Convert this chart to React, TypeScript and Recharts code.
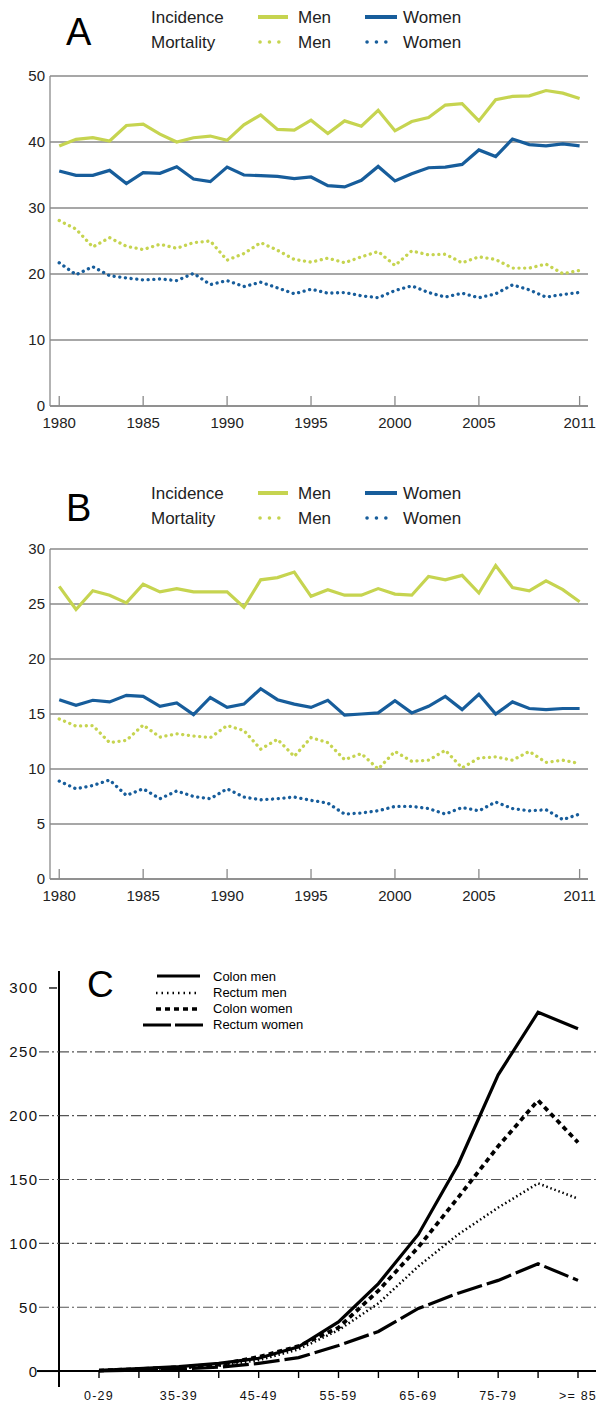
import React from "react";
import { LineChart, Line, XAxis, YAxis, CartesianGrid, ReferenceLine } from "recharts";

// years on the x axis of panels A and B
const years = [
  1980, 1981, 1982, 1983, 1984, 1985, 1986, 1987, 1988, 1989,
  1990, 1991, 1992, 1993, 1994, 1995, 1996, 1997, 1998, 1999,
  2000, 2001, 2002, 2003, 2004, 2005, 2006, 2007, 2008, 2009,
  2010, 2011,
];
const yearTicks = [1980, 1985, 1990, 1995, 2000, 2005, 2011];

// panel A
const incMenA = [39.4, 40.4, 40.65, 40.15, 42.5, 42.7, 41.2, 40.0, 40.65, 40.9, 40.25, 42.6, 44.1, 41.9, 41.8, 43.3, 41.3, 43.2, 42.4, 44.8, 41.7, 43.1, 43.7, 45.6, 45.8, 43.2, 46.4, 46.9, 47.0, 47.8, 47.4, 46.6];
const incWomenA = [35.6, 34.95, 34.95, 35.7, 33.7, 35.35, 35.25, 36.25, 34.4, 34.0, 36.2, 35.0, 34.9, 34.8, 34.45, 34.7, 33.4, 33.2, 34.2, 36.3, 34.1, 35.2, 36.1, 36.2, 36.6, 38.8, 37.8, 40.45, 39.6, 39.4, 39.7, 39.4];
const mortMenA = [28.1, 26.8, 24.1, 25.5, 24.2, 23.7, 24.5, 23.9, 24.75, 25.0, 22.1, 23.1, 24.75, 23.6, 22.2, 21.8, 22.4, 21.7, 22.6, 23.4, 21.3, 23.5, 22.9, 23.0, 21.7, 22.6, 22.2, 20.9, 20.9, 21.5, 20.05, 20.55];
const mortWomenA = [21.7, 19.9, 21.1, 19.75, 19.4, 19.1, 19.25, 19.0, 20.1, 18.4, 19.0, 18.1, 18.75, 17.9, 17.0, 17.7, 17.1, 17.2, 16.7, 16.4, 17.5, 18.2, 17.2, 16.5, 17.1, 16.4, 17.0, 18.35, 17.6, 16.5, 16.9, 17.2];
const ticksA = [0, 10, 20, 30, 40, 50];

// panel B
const incMenB = [26.6, 24.5, 26.2, 25.8, 25.1, 26.8, 26.1, 26.4, 26.1, 26.1, 26.1, 24.7, 27.2, 27.4, 27.9, 25.7, 26.3, 25.8, 25.8, 26.4, 25.9, 25.8, 27.5, 27.2, 27.6, 26.0, 28.5, 26.5, 26.2, 27.1, 26.3, 25.2];
const incWomenB = [16.3, 15.8, 16.25, 16.1, 16.7, 16.6, 15.7, 16.0, 14.95, 16.5, 15.6, 15.9, 17.3, 16.3, 15.9, 15.6, 16.25, 14.9, 15.0, 15.1, 16.2, 15.1, 15.7, 16.6, 15.4, 16.8, 15.0, 16.1, 15.5, 15.4, 15.5, 15.5];
const mortMenB = [14.55, 13.9, 13.95, 12.4, 12.6, 14.0, 12.9, 13.2, 13.0, 12.85, 13.95, 13.5, 11.8, 12.7, 11.15, 12.85, 12.4, 10.85, 11.4, 10.0, 11.6, 10.7, 10.8, 11.7, 10.1, 11.0, 11.1, 10.8, 11.6, 10.6, 10.8, 10.5];
const mortWomenB = [8.9, 8.2, 8.5, 9.0, 7.6, 8.2, 7.3, 8.0, 7.5, 7.3, 8.2, 7.45, 7.2, 7.3, 7.45, 7.15, 6.9, 5.9, 6.0, 6.2, 6.6, 6.6, 6.4, 5.9, 6.5, 6.2, 7.0, 6.4, 6.2, 6.3, 5.4, 5.9];
const ticksB = [0, 5, 10, 15, 20, 25, 30];

// panel C
const ageGroups = ["0-29", "30-34", "35-39", "40-44", "45-49", "50-54", "55-59", "60-64", "65-69", "70-74", "75-79", "80-84", ">= 85"];
const colonMen = [0.5, 2, 3.5, 6, 10, 19, 38.5, 68.5, 107, 162, 232, 281, 268];
const rectumMen = [0.3, 1, 2, 4, 8.5, 17, 32, 53, 82, 107, 128, 147, 135];
const colonWomen = [0.4, 1.5, 3, 5, 11, 19.5, 34, 63, 97, 136, 176, 212, 179];
const rectumWomen = [0.2, 0.8, 1.5, 3, 6, 10.5, 20, 31, 49, 61, 71, 84, 71];
const ticksC = [0, 50, 100, 150, 200, 250, 300];
const gridC = [50, 100, 150, 200, 250];

const GREEN = "#c6d450";
const BLUE = "#175d9b";
const GRID = "#8a8a8a";
const FONT = "'Liberation Sans', Arial, sans-serif";
const DOTS = "0.1 5.6";

const rowsA = years.map((year, i) => ({
  year,
  incMen: incMenA[i],
  incWomen: incWomenA[i],
  mortMen: mortMenA[i],
  mortWomen: mortWomenA[i],
}));
const rowsB = years.map((year, i) => ({
  year,
  incMen: incMenB[i],
  incWomen: incWomenB[i],
  mortMen: mortMenB[i],
  mortWomen: mortWomenB[i],
}));
const rowsC = ageGroups.map((age, i) => ({
  age,
  colonMen: colonMen[i],
  rectumMen: rectumMen[i],
  colonWomen: colonWomen[i],
  rectumWomen: rectumWomen[i],
}));

const YearTick = ({ x, y, payload }: any) => (
  <g>
    <line x1={x} x2={x} y1={y - 10} y2={y} stroke={GRID} strokeWidth={1.3} />
    <text x={x} y={y + 22} textAnchor="middle" fontSize={15} fill="#222" fontFamily={FONT}>
      {payload.value}
    </text>
  </g>
);

const RateTick = ({ x, y, payload }: any) => (
  <text x={x - 5} y={y + 5} textAnchor="end" fontSize={15} fill="#222" fontFamily={FONT}>
    {payload.value}
  </text>
);

function TrendLegend({ letter, shift }: { letter: string; shift: number }) {
  const t = { fontSize: 17, fill: "#222", fontFamily: FONT };
  return (
    <svg width={596} height={60} style={{ position: "absolute", left: 0, top: shift, pointerEvents: "none" }}>
      <text x={66} y={45} fontSize={38} fill="#000" fontFamily={FONT}>{letter}</text>
      <text x={151} y={23} {...t}>Incidence</text>
      <text x={151} y={48} {...t}>Mortality</text>
      <line x1={258} x2={288} y1={17} y2={17} stroke={GREEN} strokeWidth={4} />
      <text x={298} y={23} {...t}>Men</text>
      <line x1={365} x2={397} y1={17} y2={17} stroke={BLUE} strokeWidth={4} />
      <text x={403} y={23} {...t}>Women</text>
      <line x1={260} x2={288} y1={42} y2={42} stroke={GREEN} strokeWidth={3.5} strokeDasharray="0.1 9.3" strokeLinecap="round" />
      <text x={298} y={48} {...t}>Men</text>
      <line x1={367} x2={395} y1={42} y2={42} stroke={BLUE} strokeWidth={3.5} strokeDasharray="0.1 9.3" strokeLinecap="round" />
      <text x={403} y={48} {...t}>Women</text>
    </svg>
  );
}

function TrendPanel({ letter, top, shift, rows, yMax, yTicks }: any) {
  return (
    <div style={{ position: "absolute", left: 0, top, width: 596, height: 440 }}>
      <LineChart width={596} height={440} data={rows} margin={{ top: 76, right: 8, bottom: 0, left: 0 }}>
        <CartesianGrid vertical={false} stroke={GRID} strokeWidth={1.3} />
        <XAxis
          dataKey="year"
          type="number"
          domain={[1979.45, 2011.5]}
          ticks={yearTicks}
          interval={0}
          height={34}
          tickSize={0}
          tickMargin={0}
          axisLine={{ stroke: GRID, strokeWidth: 1.5 }}
          tick={YearTick}
        />
        <YAxis
          domain={[0, yMax]}
          ticks={yTicks}
          interval={0}
          width={50}
          tickSize={0}
          tickMargin={0}
          axisLine={{ stroke: GRID, strokeWidth: 1.3 }}
          tick={RateTick}
        />
        <Line dataKey="incMen" stroke={GREEN} strokeWidth={3.2} dot={false} isAnimationActive={false} />
        <Line dataKey="incWomen" stroke={BLUE} strokeWidth={3.2} dot={false} isAnimationActive={false} />
        <Line dataKey="mortMen" stroke={GREEN} strokeWidth={3.3} strokeDasharray={DOTS} strokeLinecap="round" dot={false} isAnimationActive={false} />
        <Line dataKey="mortWomen" stroke={BLUE} strokeWidth={3.3} strokeDasharray={DOTS} strokeLinecap="round" dot={false} isAnimationActive={false} />
      </LineChart>
      <TrendLegend letter={letter} shift={shift} />
    </div>
  );
}

const AgeTick = ({ x, y, payload, index }: any) => (
  <g>
    <line x1={x} x2={x} y1={y - 16} y2={y - 9} stroke="#000" strokeWidth={1.4} />
    {index % 2 === 0 && (
      <text x={x} y={y + 12.5} textAnchor="middle" fontSize={12.5} letterSpacing={1.2} fill="#111" fontFamily={FONT}>
        {payload.value}
      </text>
    )}
  </g>
);

const CountTick = ({ x, y, payload }: any) => {
  const v = payload.value;
  let stub;
  if (v === 0) stub = <line x1={37} x2={x} y1={y} y2={y} stroke="#000" strokeWidth={2} />;
  else if (v === 300) stub = <line x1={49} x2={57} y1={y} y2={y} stroke="#000" strokeWidth={1.3} />;
  else stub = <line x1={39} x2={x} y1={y} y2={y} stroke="#555" strokeWidth={1.1} strokeDasharray="10 3 2 3" />;
  return (
    <g>
      {stub}
      <text x={38.5} y={y + 5.5} textAnchor="end" fontSize={15} letterSpacing={1.4} fill="#111" fontFamily={FONT}>
        {v}
      </text>
    </g>
  );
};

function AgeLegend() {
  const t = { fontSize: 13, fill: "#000", fontFamily: FONT };
  return (
    <svg width={596} height={100} style={{ position: "absolute", left: 0, top: 0, pointerEvents: "none" }}>
      <text x={87} y={57} fontSize={37} fill="#000" fontFamily={FONT}>C</text>
      <line x1={157} x2={200} y1={36} y2={36} stroke="#000" strokeWidth={3.2} />
      <text x={213} y={40.5} {...t}>Colon men</text>
      <line x1={156} x2={200} y1={53} y2={53} stroke="#000" strokeWidth={2.5} strokeDasharray="1.5 4" />
      <text x={213} y={56.5} {...t}>Rectum men</text>
      <line x1={156} x2={200} y1={69} y2={69} stroke="#000" strokeWidth={3.6} strokeDasharray="5 4" />
      <text x={213} y={72.5} {...t}>Colon women</text>
      <line x1={143} x2={203} y1={85} y2={85} stroke="#000" strokeWidth={3.2} strokeDasharray="28 4" />
      <text x={213} y={89} {...t}>Rectum women</text>
    </svg>
  );
}

function AgePanel() {
  return (
    <div style={{ position: "absolute", left: 0, top: 940, width: 596, height: 465 }}>
      <LineChart width={596} height={465} data={rowsC} margin={{ top: 31, right: 0, bottom: 0, left: 0 }}>
        <XAxis
          dataKey="age"
          type="category"
          scale="point"
          padding={{ left: 40, right: 18 }}
          interval={0}
          height={18}
          tickSize={0}
          tickMargin={0}
          axisLine={false}
          tick={AgeTick}
        />
        <YAxis
          domain={[-12.5, 313.3]}
          ticks={ticksC}
          interval={0}
          width={59}
          tickSize={0}
          tickMargin={0}
          axisLine={{ stroke: "#000", strokeWidth: 2 }}
          tick={CountTick}
        />
        {gridC.map((v) => (
          <ReferenceLine key={v} y={v} stroke="#555" strokeWidth={1.1} strokeDasharray="10 3 2 3" />
        ))}
        <ReferenceLine y={0} stroke="#000" strokeWidth={2} />
        <Line dataKey="rectumWomen" stroke="#000" strokeWidth={3.2} strokeDasharray="26 5" dot={false} isAnimationActive={false} />
        <Line dataKey="rectumMen" stroke="#000" strokeWidth={2.5} strokeDasharray="1.5 2.8" dot={false} isAnimationActive={false} />
        <Line dataKey="colonWomen" stroke="#000" strokeWidth={3.8} strokeDasharray="5 4" dot={false} isAnimationActive={false} />
        <Line dataKey="colonMen" stroke="#000" strokeWidth={3.2} dot={false} isAnimationActive={false} />
      </LineChart>
      <AgeLegend />
    </div>
  );
}

export default function App() {
  return (
    <div style={{ position: "absolute", left: 0, top: 0, width: 596, height: 1405, background: "#fff", overflow: "hidden" }}>
      <TrendPanel letter="A" top={0} shift={0} rows={rowsA} yMax={50} yTicks={ticksA} />
      <TrendPanel letter="B" top={473} shift={3} rows={rowsB} yMax={30} yTicks={ticksB} />
      <AgePanel />
    </div>
  );
}
